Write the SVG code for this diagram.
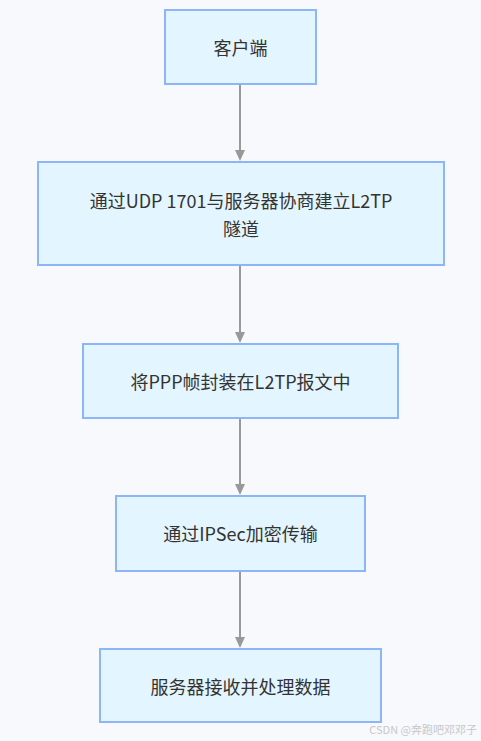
<svg xmlns="http://www.w3.org/2000/svg" width="481" height="741" viewBox="0 0 481 741">
<defs>
<style>
.node rect{fill:#e3f5fe;stroke:#8cb6f8;stroke-width:2}
.node text{font-family:"Noto Sans CJK SC","Noto Sans",sans-serif;font-size:18px;fill:#333;text-anchor:middle;dominant-baseline:central}
.edge{stroke:#999;stroke-width:2;fill:none}
.head{fill:#999}
.wm{font-family:"Noto Sans CJK SC","Noto Sans",sans-serif;font-size:11px;fill:#c8c8c8;text-anchor:end}
</style>
</defs>
<rect width="481" height="741" fill="#f8f9fc"/>
<g id="connectors">
<line class="edge" x1="240" y1="85" x2="240" y2="150"/>
<path class="head" d="M235,150 L245,150 L240,161 z"/>
<line class="edge" x1="240" y1="266" x2="240" y2="332"/>
<path class="head" d="M235,332 L245,332 L240,343 z"/>
<line class="edge" x1="240" y1="419" x2="240" y2="484"/>
<path class="head" d="M235,484 L245,484 L240,495 z"/>
<line class="edge" x1="240" y1="572" x2="240" y2="637"/>
<path class="head" d="M235,637 L245,637 L240,648 z"/>
</g>
<g id="n1" class="node"><rect x="165" y="10" width="151" height="74"/><text x="240.5" y="47">客户端</text></g>
<g id="n2" class="node"><rect x="38" y="162" width="406" height="103"/><text x="241" y="200">通过UDP 1701与服务器协商建立L2TP</text><text x="241" y="228">隧道</text></g>
<g id="n3" class="node"><rect x="83" y="344" width="315" height="74"/><text x="240.5" y="381">将PPP帧封装在L2TP报文中</text></g>
<g id="n4" class="node"><rect x="116" y="496" width="249" height="75"/><text x="240.5" y="533">通过IPSec加密传输</text></g>
<g id="n5" class="node"><rect x="100" y="649" width="281" height="73"/><text x="240.5" y="686">服务器接收并处理数据</text></g>
<text class="wm" x="477" y="734">CSDN @奔跑吧邓邓子</text>
</svg>
